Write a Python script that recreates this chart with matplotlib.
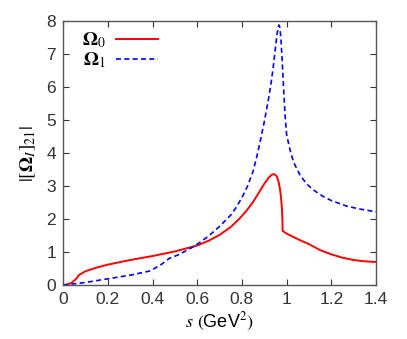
import numpy as np
import matplotlib.pyplot as plt

# ------------------------------
# values
# ------------------------------
s0 = [0.0, 0.02, 0.04, 0.06, 0.07, 0.1, 0.15, 0.2, 0.3, 0.4, 0.5, 0.6, 0.65, 0.7,
      0.75, 0.79, 0.82, 0.85, 0.88, 0.9, 0.92, 0.935, 0.945, 0.955, 0.963,
      0.97, 0.975, 0.979, 0.981, 0.982, 1.0, 1.06, 1.1, 1.15, 1.2, 1.25, 1.3,
      1.35, 1.4]
omega0 = [0.0, 0.02, 0.08, 0.2, 0.3, 0.42, 0.53, 0.62, 0.76, 0.88, 1.02, 1.2, 1.34, 1.52,
          1.76, 2.02, 2.25, 2.52, 2.85, 3.07, 3.26, 3.35, 3.36, 3.3, 3.16,
          2.92, 2.65, 2.3, 2.0, 1.64, 1.56, 1.36, 1.24, 1.06, 0.93, 0.83, 0.76,
          0.72, 0.70]

s1 = [0.0, 0.1, 0.19, 0.3, 0.39, 0.44, 0.475, 0.52, 0.59, 0.65, 0.7, 0.75,
      0.775, 0.8, 0.825, 0.85, 0.865, 0.88, 0.9, 0.918, 0.93, 0.94, 0.95,
      0.958, 0.965, 0.97, 0.975, 0.98, 0.986, 0.993, 1.0, 1.015, 1.03, 1.06,
      1.09, 1.12, 1.16, 1.2, 1.27, 1.33, 1.4]
omega1 = [0.0, 0.08, 0.18, 0.3, 0.43, 0.63, 0.81, 0.93, 1.19, 1.48, 1.78, 2.12,
          2.36, 2.65, 3.0, 3.45, 3.85, 4.3, 4.95, 5.6, 6.1, 6.6, 7.2,
          7.65, 7.88, 7.8, 7.4, 6.8, 6.0, 5.15, 4.55, 4.1, 3.74, 3.33,
          3.06, 2.88, 2.7, 2.56, 2.39, 2.3, 2.22]

xticks = [0, 0.2, 0.4, 0.6, 0.8, 1, 1.2, 1.4]
xticklabels = ["0", "0.2", "0.4", "0.6", "0.8", "1", "1.2", "1.4"]
yticks = [0, 1, 2, 3, 4, 5, 6, 7, 8]

plt.rcParams["font.family"] = ["Liberation Sans", "DejaVu Sans"]
plt.rcParams["mathtext.fontset"] = "stix"

fig = plt.figure(figsize=(4.07, 3.39), dpi=100)
ax = fig.add_axes([0.155, 0.159, 0.769, 0.779])

ax.plot(s0, omega0, color="#ff0000", linewidth=1.4, label=r"$\mathbf{\Omega}_0$")
ax.plot(s1, omega1, color="#0000ff", linewidth=1.2, linestyle=(0, (3, 2)),
        label=r"$\mathbf{\Omega}_1$")

ax.set_xlim(0, 1.4)
ax.set_ylim(0, 8)
ax.set_xticks(xticks)
ax.set_xticklabels(xticklabels)
ax.set_yticks(yticks)

ax.tick_params(direction="in", top=True, right=True, length=4, width=0.8,
               labelsize=12.5, colors="#333333", pad=5)
for sp in ax.spines.values():
    sp.set_color("#555555")
    sp.set_linewidth(1.0)

ax.set_xlabel(r"$s$ $($GeV$^2)$", fontsize=13, labelpad=3)
ax.set_ylabel(r"$|[\mathbf{\Omega}_I]_{21}|$", fontsize=14, labelpad=6)

ax.legend(loc="upper left", frameon=False, markerfirst=False, fontsize=14,
          handlelength=2.2, handletextpad=0.5, labelspacing=0.0,
          borderaxespad=0.1, bbox_to_anchor=(0.03, 1.0))

fig.savefig("out.png", dpi=100)
